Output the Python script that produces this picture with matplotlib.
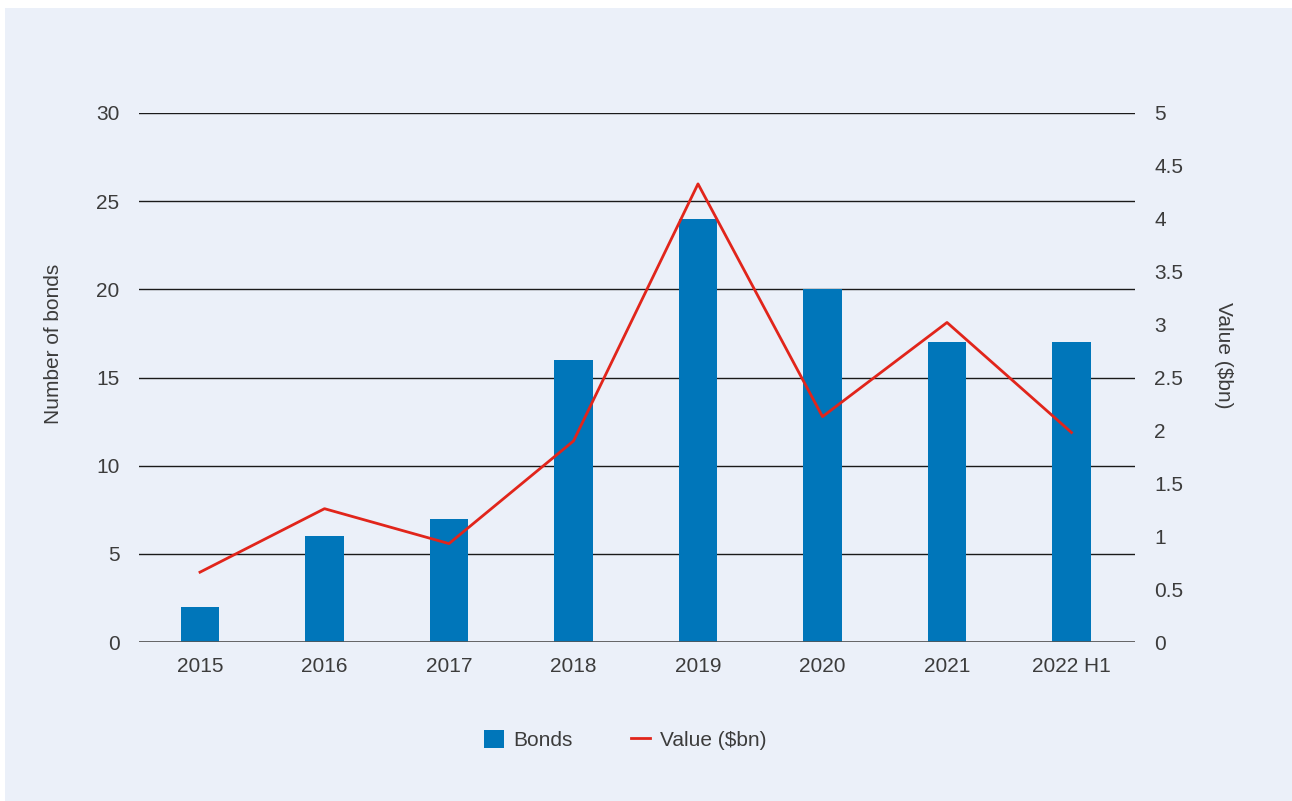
import matplotlib
matplotlib.use("Agg")
import matplotlib.pyplot as plt
import numpy as np
from matplotlib.patches import Rectangle

years = ["2015", "2016", "2017", "2018", "2019", "2020", "2021", "2022 H1"]
bonds = [2, 6, 7, 16, 24, 20, 17, 17]
value_bn = [0.66, 1.26, 0.93, 1.90, 4.33, 2.13, 3.02, 1.98]

left_ticks = [0, 5, 10, 15, 20, 25, 30]
right_ticks = [0, 0.5, 1, 1.5, 2, 2.5, 3, 3.5, 4, 4.5, 5]
right_labels = ["0", "0.5", "1", "1.5", "2", "2.5", "3", "3.5", "4", "4.5", "5"]

BG = "#EBF0F9"
BAR = "#0076BA"
LINE = "#E1251B"
TEXT = "#3C3C3C"
FS = 15

plt.rcParams["font.family"] = ["Liberation Sans", "DejaVu Sans"]

W, H = 1292, 801
fig = plt.figure(figsize=(W / 100, H / 100), dpi=100, facecolor="white")
fig.patches.append(Rectangle((5 / W, 0), 1 - 5 / W, 1 - 8 / H,
                             transform=fig.transFigure, facecolor=BG,
                             edgecolor="none", zorder=-10))

ax = fig.add_axes([139 / W, 1 - 642 / H, (1135 - 139) / W, (642 - 113) / H])
ax.set_facecolor("none")
x = np.arange(len(years))
ax.bar(x, bonds, width=0.31, color=BAR, zorder=2, label="Bonds")
ax.set_xlim(-0.49, len(years) - 0.49)
ax.set_ylim(0, 30)
ax.set_yticks(left_ticks)
ax.set_xticks(x)
ax.set_xticklabels(years)
ax.grid(axis="y", color="#1a1a1a", linewidth=1.0, zorder=0)
ax.axhline(0, color="#555555", linewidth=1.2, zorder=3)
for s in ax.spines.values():
    s.set_visible(False)
ax.tick_params(axis="both", length=0, labelsize=FS, colors=TEXT)
ax.tick_params(axis="y", pad=14)
ax.tick_params(axis="x", pad=11)
ax.set_ylabel("Number of bonds", fontsize=FS, color=TEXT)
ax.yaxis.set_label_coords(-0.076, 0.563)

ax2 = ax.twinx()
ax2.plot(x, value_bn, color=LINE, linewidth=2.0, zorder=4, label="Value ($bn)")
ax2.set_ylim(0, 5)
ax2.set_yticks(right_ticks)
ax2.set_yticklabels(right_labels)
for s in ax2.spines.values():
    s.set_visible(False)
ax2.tick_params(axis="y", length=0, labelsize=FS, colors=TEXT, pad=14)
ax2.set_ylabel("Value ($bn)", fontsize=FS, color=TEXT, rotation=270,
               va="center")
ax2.yaxis.set_label_coords(1.089, 0.5425)

h1, l1 = ax.get_legend_handles_labels()
h2, l2 = ax2.get_legend_handles_labels()
fig.legend(h1 + h2, l1 + l2, loc="center", bbox_to_anchor=(625 / W, 1 - 740 / H),
           ncol=2, frameon=False, fontsize=FS, labelcolor=TEXT,
           handlelength=0.95, handleheight=0.95, columnspacing=2.8, handletextpad=0.45)

fig.savefig("out.png", dpi=100, facecolor=fig.get_facecolor())
